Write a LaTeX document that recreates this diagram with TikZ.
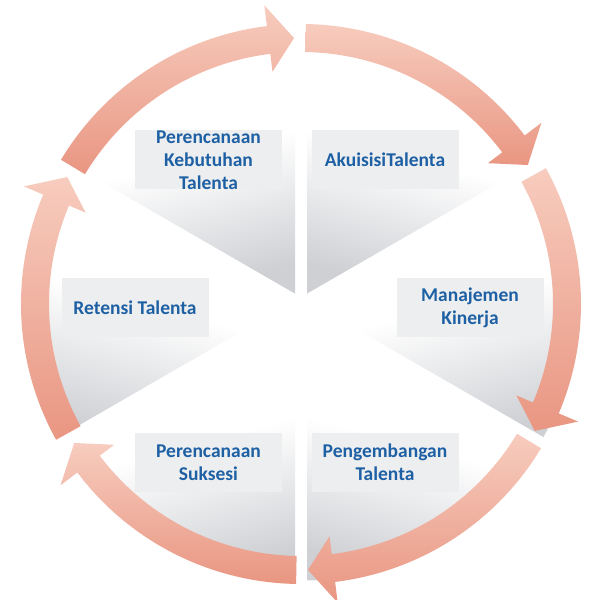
\documentclass[tikz,border=0pt]{standalone}
\usepackage{fontspec}
\setmainfont{Carlito}
\usetikzlibrary{calc}
\definecolor{arrtop}{RGB}{247,204,190}
\definecolor{arrbot}{RGB}{233,150,130}
\definecolor{secbot}{RGB}{206,208,212}
\definecolor{secmid}{RGB}{230,231,233}
\definecolor{boxfill}{RGB}{237,238,240}
\definecolor{txtblue}{RGB}{30,96,164}
\pgfdeclareverticalshading{secramp}{100bp}{color(0bp)=(secbot); color(25bp)=(secbot); color(37bp)=(secmid); color(50bp)=(white); color(100bp)=(white)}
\begin{document}
\begin{tikzpicture}[x=1pt,y=1pt,
  sector/.style={shading=secramp, draw=none},
  arrowband/.style={top color=arrtop, bottom color=arrbot, draw=none},
  labelbox/.style={fill=boxfill, draw=none, minimum width=147pt, minimum height=59pt, inner sep=0pt},
  labeltext/.style={text=txtblue, align=center, font=\fontsize{19.5}{23}\selectfont\bfseries, inner sep=0pt}]
\useasboundingbox (0,0) rectangle (600,600);
\fill[white] (0,0) rectangle (600,600);
\coordinate (C) at (301,296);
% pie sectors
\foreach \b/\sa in {120/15, 60/-15, 0/15, -60/-15, -120/15, 180/-15} {
  \shade[sector, shading angle=\sa] ($(C)+(\b:12)$) -- ++({\b+30}:266) arc[start angle={\b+30}, end angle={\b-30}, radius=266] -- cycle;
}
% label boxes
\node[labelbox] (bPKT) at (208.5,440) {};
\node[labelbox] (bAT)  at (385,440) {};
\node[labelbox] (bMK)  at (470,292) {};
\node[labelbox] (bRT)  at (135,292) {};
\node[labelbox] (bPS)  at (208.5,137.5) {};
\node[labelbox] (bPT)  at (385,137.5) {};
% labels
\node[labeltext] (tPKT) at (bPKT) {Perencanaan\\Kebutuhan\\Talenta};
\node[labeltext] (tAT)  at (bAT)  {AkuisisiTalenta};
\node[labeltext] (tMK)  at (bMK)  {Manajemen\\Kinerja};
\node[labeltext] (tRT)  at (bRT)  {Retensi Talenta};
\node[labeltext] (tPS)  at (bPS)  {Perencanaan\\Suksesi};
\node[labeltext] (tPT)  at (bPT)  {Pengembangan\\Talenta};
% circular arrows
\foreach \ta/\hb/\tp in {149/97/91.5, 89/37/31.5, 29/-23/-28.5, -31/-83/-88.5, -91/-143/-148.5, 209/157/151.5} {
  \shade[arrowband] ($(C)+(\ta:280)$) arc[start angle=\ta, end angle=\hb, radius=280]
    -- ($(C)+(\hb:301)$) -- ($(C)+(\tp:266)$) -- ($(C)+(\hb:234)$)
    -- ($(C)+(\hb:252)$) arc[start angle=\hb, end angle=\ta, radius=252] -- cycle;
}
\end{tikzpicture}
\end{document}
